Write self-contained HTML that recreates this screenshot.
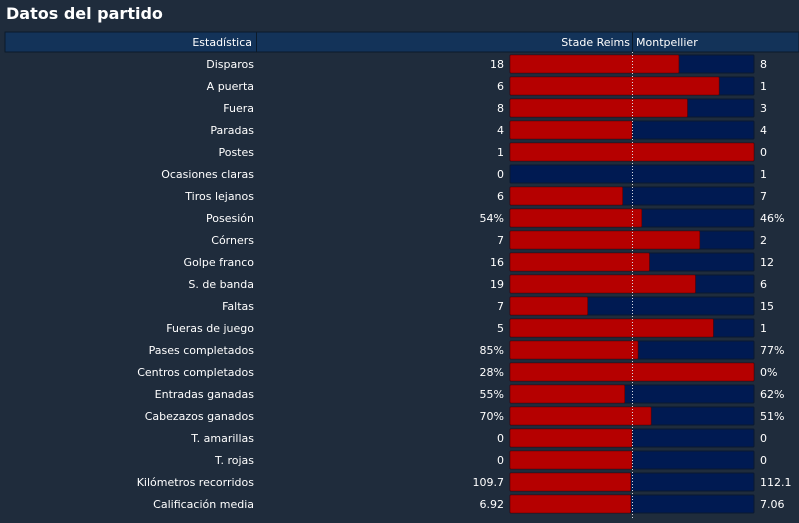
<!DOCTYPE html>
<html><head><meta charset="utf-8">
<style>
body{margin:0;background:#1f2c3c;width:799px;height:519px;overflow:hidden;font-family:"DejaVu Sans","Liberation Sans",sans-serif;}
svg text{font-family:"DejaVu Sans","Liberation Sans",sans-serif;}
</style></head>
<body>
<svg id="chart" width="799" height="519" xmlns="http://www.w3.org/2000/svg">
<rect width="799" height="519" fill="#1f2c3c"/>
<text x="6" y="19" fill="#ffffff" font-size="16" font-weight="bold">Datos del partido</text>
<rect x="5" y="32" width="794" height="20" fill="#133359" stroke="#0b1a2a" stroke-width="1"/>
<line x1="256.5" y1="32" x2="256.5" y2="52" stroke="#0b1a2a"/>
<line x1="632.5" y1="32" x2="632.5" y2="52" stroke="#0b1a2a"/>
<text x="252" y="46" fill="#fff" font-size="11" text-anchor="end">Estadística</text>
<text x="630" y="46" fill="#fff" font-size="11" text-anchor="end">Stade Reims</text>
<text x="636" y="46" fill="#fff" font-size="11">Montpellier</text>
<g id="rows"></g>
</svg>
<script>
const labels=["Disparos","A puerta","Fuera","Paradas","Postes","Ocasiones claras","Tiros lejanos","Posesión","Córners","Golpe franco","S. de banda","Faltas","Fueras de juego","Pases completados","Centros completados","Entradas ganadas","Cabezazos ganados","T. amarillas","T. rojas","Kilómetros recorridos","Calificación media"];
const homeVals=[18,6,8,4,1,0,6,54,7,16,19,7,5,85,28,55,70,0,0,109.7,6.92];
const awayVals=[8,1,3,4,0,1,7,46,2,12,6,15,1,77,0,62,51,0,0,112.1,7.06];
const homeText=["18","6","8","4","1","0","6","54%","7","16","19","7","5","85%","28%","55%","70%","0","0","109.7","6.92"];
const awayText=["8","1","3","4","0","1","7","46%","2","12","6","15","1","77%","0%","62%","51%","0","0","112.1","7.06"];
const NS="http://www.w3.org/2000/svg";
const g=document.getElementById('rows');
const barX=510,barW=244,rowY0=64,rowH=22,barH=18;
function rowY(i){return rowY0+i*rowH;}
function xScale(f){return barX+f*barW;}
function mk(tag,attrs){const e=document.createElementNS(NS,tag);for(const k in attrs)e.setAttribute(k,attrs[k]);g.appendChild(e);return e;}
labels.forEach((lab,i)=>{
  const cy=rowY(i);
  const t=mk('text',{x:254,y:cy+4,fill:'#fff','font-size':11,'text-anchor':'end'});
  
  
  t.textContent=lab;
  const hv=mk('text',{x:504,y:cy+4,fill:'#fff','font-size':11,'text-anchor':'end'});
  
  
  hv.textContent=homeText[i];
  const av=mk('text',{x:760,y:cy+4,fill:'#fff','font-size':11});
  
  
  av.textContent=awayText[i];
  const tot=homeVals[i]+awayVals[i];
  const f=tot>0?homeVals[i]/tot:0.5;
  const bg=mk('rect',{x:barX,y:cy-barH/2,width:barW,height:barH,fill:'#001a52',stroke:'#0a1830','stroke-width':1,rx:1});
  
  
  if(f>0){
    const r=mk('rect',{x:barX,y:cy-barH/2,width:xScale(f)-barX,height:barH,fill:'#b50000',stroke:'#5a0000','stroke-width':0.6,rx:1});
    
    
  }
});
const cl=mk('line',{x1:632.5,y1:52,x2:632.5,y2:519,stroke:'#d8dde5','stroke-width':1,'stroke-dasharray':'1,2'});


</script>
</body></html>
